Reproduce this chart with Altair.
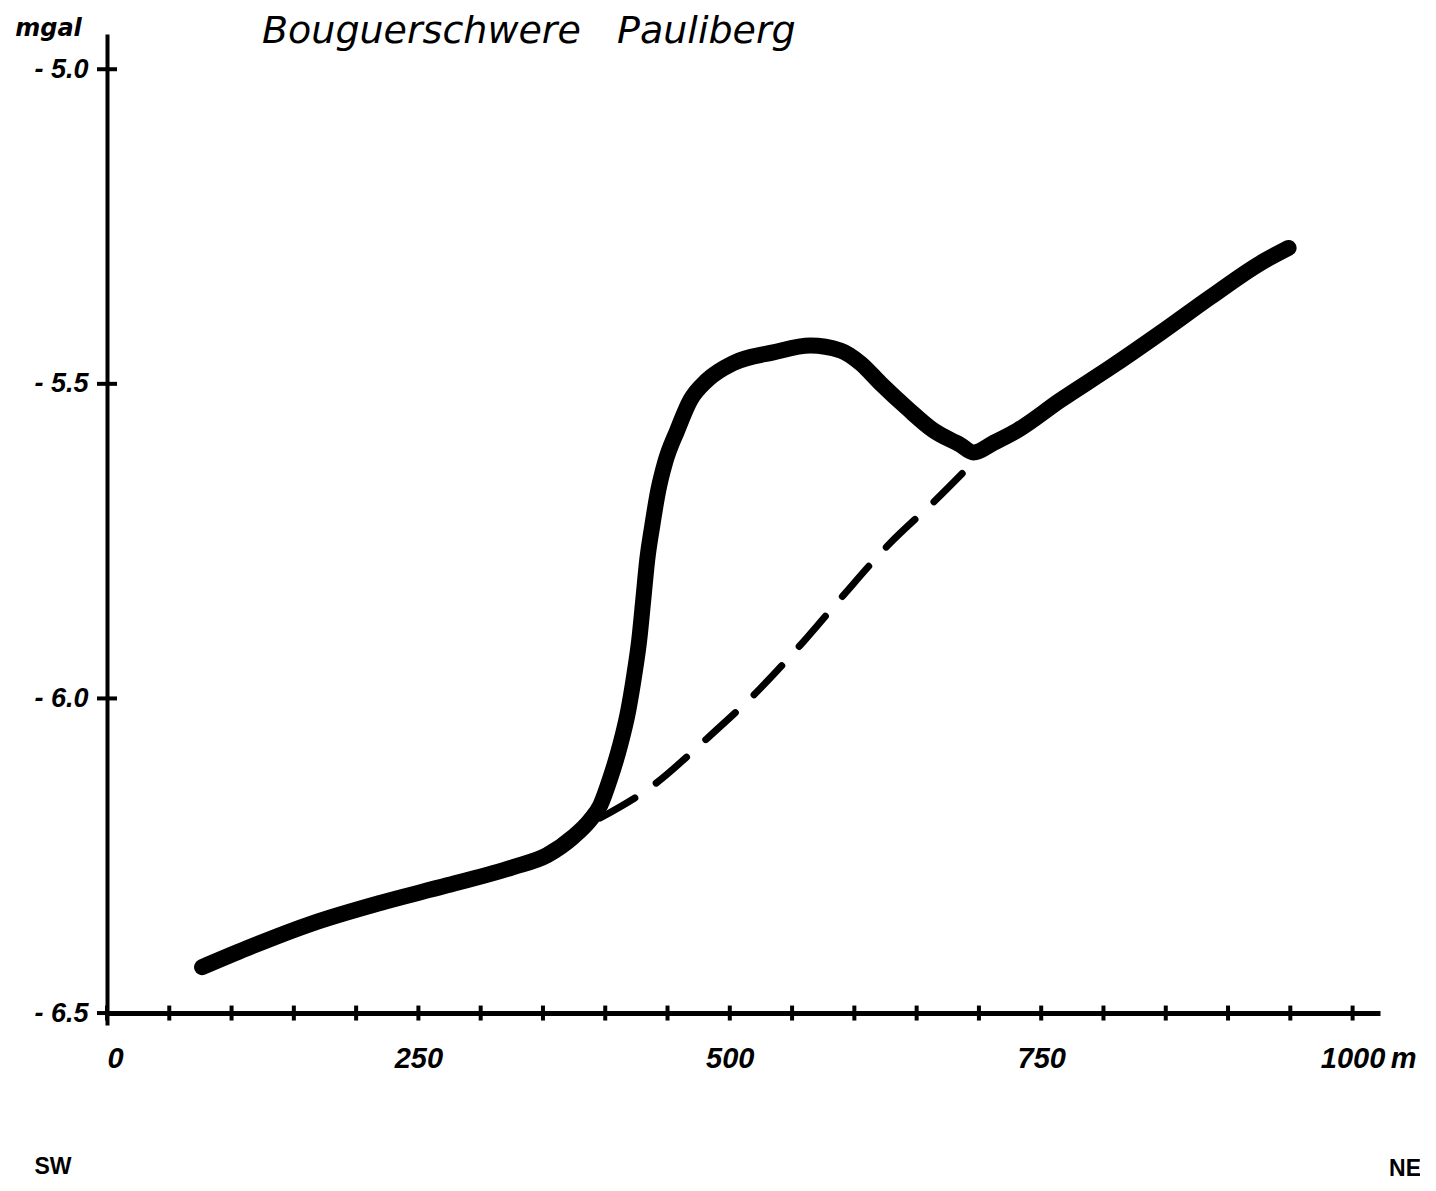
import altair as alt
import pandas as pd

# ---- data ----
title_text = "Bouguerschwere\u00a0\u00a0\u00a0Pauliberg"
y_title = "mgal"

solid_m = [76.3, 112.4, 165.5, 219.3, 273.1, 326.1, 353.4, 374.3, 388.0, 396.0,
           404.0, 412.0, 418.5, 423.3, 427.3, 430.5, 433.7, 437.8, 442.6, 448.2,
           457.8, 468.3, 481.9, 502.8, 534.9, 564.7, 588.8, 604.8, 620.9, 642.6, 663.5,
           685.1, 695.6, 711.6, 730.9, 765.5, 805.6, 845.8, 886.0, 926.1, 948.6]
solid_v = [-6.427, -6.397, -6.357, -6.325, -6.297, -6.268, -6.249, -6.220, -6.193, -6.170,
           -6.127, -6.074, -6.019, -5.963, -5.907, -5.844, -5.780, -5.725, -5.669, -5.624,
           -5.574, -5.526, -5.494, -5.467, -5.450, -5.439, -5.447, -5.467, -5.499, -5.539, -5.574,
           -5.597, -5.609, -5.594, -5.574, -5.526, -5.474, -5.419, -5.362, -5.308, -5.284]

dashed_m = [396.0, 438.6, 478.7, 524.5, 559.0, 591.2, 627.3, 665.1, 697.2]
dashed_v = [-6.190, -6.138, -6.069, -5.984, -5.910, -5.836, -5.756, -5.685, -5.621]

x_tick_values = [0, 50, 100, 150, 200, 250, 300, 350, 400, 450, 500,
                 550, 600, 650, 700, 750, 800, 850, 900, 950, 1000]
x_label_values = [0, 250, 500, 750, 1000]
y_tick_values = [-5.0, -5.5, -6.0, -6.5]
x_unit = "m"
dir_left = "SW"
dir_right = "NE"

solid = pd.DataFrame({"m": solid_m, "v": solid_v, "i": list(range(len(solid_m)))})
dashed = pd.DataFrame({"m": dashed_m, "v": dashed_v, "i": list(range(len(dashed_m)))})
xt = pd.DataFrame({"m": x_tick_values, "v": [-6.5] * len(x_tick_values)})
yt = pd.DataFrame({"m": [0] * len(y_tick_values), "v": y_tick_values})

LABEL_FONT = "Liberation Sans"
TITLE_FONT = "DejaVu Sans"

xscale = alt.Scale(domain=[0, 1022], nice=False, zero=False)
yscale = alt.Scale(domain=[-6.519, -4.944], nice=False, zero=False)

xaxis = alt.Axis(values=x_label_values, format="d", ticks=False, grid=False,
                 domainWidth=5, domainColor="black", offset=-12,
                 labelFont=LABEL_FONT, labelFontSize=29, labelFontStyle="italic",
                 labelFontWeight="bold",
                 labelColor="black", labelPadding=31, title=None)
yaxis = alt.Axis(values=y_tick_values,
                 labelExpr="'-\u00a0' + format(abs(datum.value), '.1f')",
                 ticks=False, grid=False, domainWidth=4, domainColor="black",
                 labelFont=LABEL_FONT, labelFontSize=27, labelFontStyle="italic",
                 labelFontWeight="bold",
                 labelColor="black", labelPadding=19,
                 title=y_title, titleAngle=0, titleX=-59, titleY=1,
                 titleAlign="center", titleBaseline="alphabetic",
                 titleFont=TITLE_FONT, titleFontSize=24, titleFontStyle="italic",
                 titleFontWeight="bold", titleColor="black")

base_x = alt.X("m:Q", scale=xscale, axis=xaxis)
base_y = alt.Y("v:Q", scale=yscale, axis=yaxis)

dash_layer = alt.Chart(dashed).mark_line(
    color="black", strokeWidth=7, strokeDash=[40, 26], strokeCap="round",
    interpolate="monotone", clip=False
).encode(x=base_x, y=base_y, order="i:Q")

solid_layer = alt.Chart(solid).mark_line(
    color="black", strokeWidth=16, strokeCap="round", strokeJoin="round",
    interpolate="monotone", clip=False
).encode(x=alt.X("m:Q", scale=xscale), y=alt.Y("v:Q", scale=yscale), order="i:Q")

xtick_layer = alt.Chart(xt).mark_tick(
    color="black", orient="vertical", size=15, thickness=4, opacity=1, clip=False
).encode(x=alt.X("m:Q", scale=xscale), y=alt.Y("v:Q", scale=yscale))

ytick_layer = alt.Chart(yt).mark_tick(
    color="black", orient="horizontal", size=20, thickness=4, opacity=1, clip=False
).encode(x=alt.X("m:Q", scale=xscale), y=alt.Y("v:Q", scale=yscale))

unit_layer = alt.Chart(pd.DataFrame({"t": [x_unit]})).mark_text(
    font=LABEL_FONT, fontSize=29, fontStyle="italic", fontWeight="bold", color="black",
    align="center", baseline="alphabetic", dx=51, dy=55
).encode(x=alt.datum(1000, scale=xscale), y=alt.datum(-6.5, scale=yscale), text="t:N")

title_layer = alt.Chart(pd.DataFrame({"t": [title_text]})).mark_text(
    font=TITLE_FONT, fontSize=38, fontStyle="italic", color="black",
    align="left", baseline="alphabetic"
).encode(x=alt.value(155), y=alt.value(9), text="t:N")

sw_layer = alt.Chart(pd.DataFrame({"t": [dir_left]})).mark_text(
    font=LABEL_FONT, fontSize=23, fontWeight="bold", color="black",
    align="center", baseline="alphabetic"
).encode(x=alt.value(-54), y=alt.value(1140), text="t:N")

ne_layer = alt.Chart(pd.DataFrame({"t": [dir_right]})).mark_text(
    font=LABEL_FONT, fontSize=23, fontWeight="bold", color="black",
    align="center", baseline="alphabetic"
).encode(x=alt.value(1298), y=alt.value(1142), text="t:N")

chart = alt.layer(
    dash_layer, solid_layer, xtick_layer, ytick_layer, unit_layer,
    title_layer, sw_layer, ne_layer
).properties(
    width=1273, height=991,
    padding={"left": 99, "top": 26, "right": 40, "bottom": 158},
    autosize=alt.AutoSizeParams(type="none"),
    background="white",
).configure_view(stroke=None)

chart.save("out.html", embed_options={"renderer": "svg", "actions": False})
